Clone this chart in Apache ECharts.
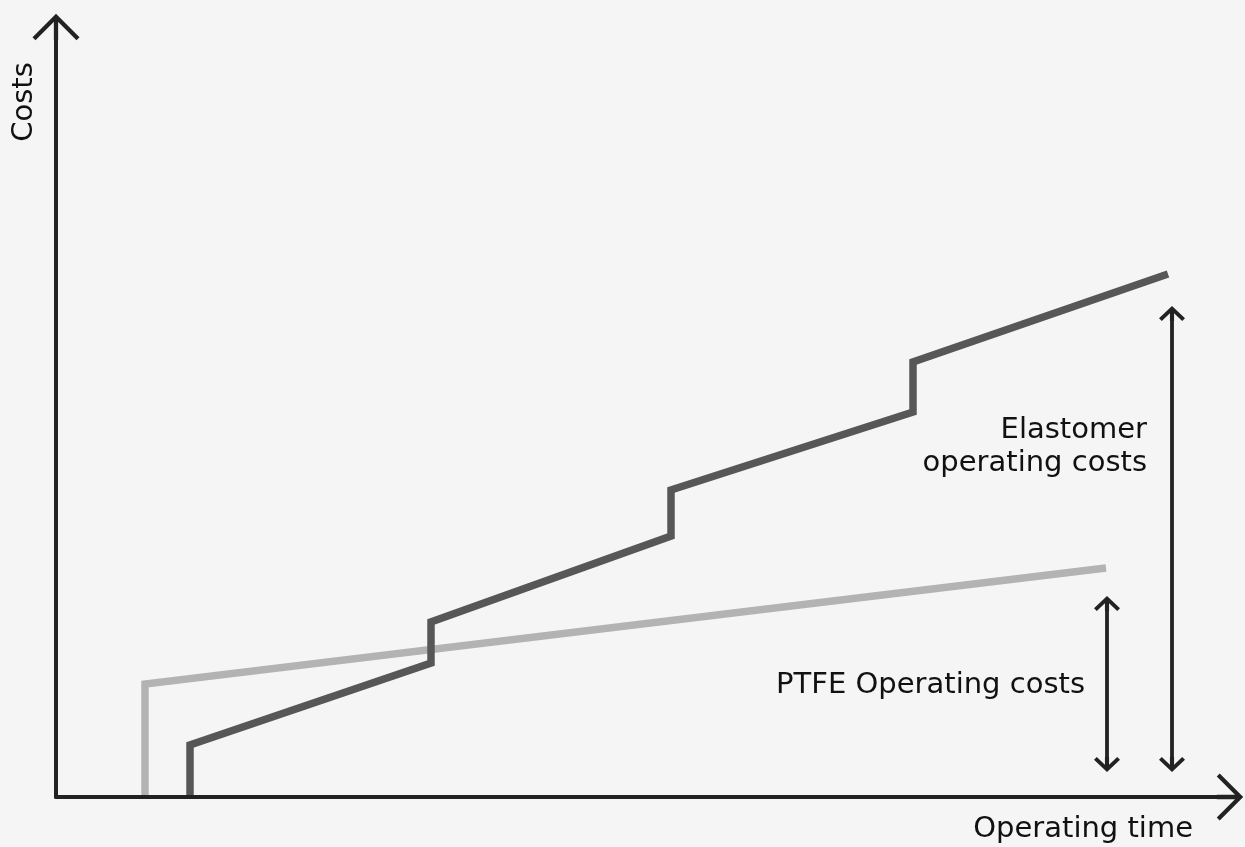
<!DOCTYPE html>
<html>
<head>
<meta charset="utf-8">
<script src="https://cdn.jsdelivr.net/npm/echarts@6/dist/echarts.min.js"></script>
<style>
  html, body { margin: 0; padding: 0; background: #f5f5f5; }
  #main { width: 1245px; height: 847px; }
</style>
</head>
<body>
<div id="main"></div>
<script>
// operating time / costs, arbitrary units
var elastomerTime = [134, 134, 375, 375, 615, 615, 857, 857, 1112];
var elastomerCost = [0, 52, 134, 175, 261, 307, 385, 435, 523];
var ptfeTime = [89, 89, 1050];
var ptfeCost = [0, 113, 229];

// double arrows for the two cost spans
var spanTime = [1051, 1116];
var ptfeSpan = [25, 201];
var elastomerSpan = [25, 491];

var labels = ['Costs', 'Operating time', 'PTFE Operating costs', 'Elastomer\noperating costs'];

var font = '29px "DejaVu Sans", Verdana, sans-serif';
var ink = '#222222';

// chevron with a short stem, pointing up
var bigArrow = 'path://M22,0 L44,22 L41.2,24.8 L22,5.6 L2.8,24.8 L0,22 Z M20,2 L24,2 L24,24.8 L20,24.8 Z';
var smallArrow = 'path://M12,0 L24,12 L21.4,14.6 L12,5.2 L2.6,14.6 L0,12 Z M10.1,2 L13.9,2 L13.9,14.6 L10.1,14.6 Z';
var smallH = 15;

function pairs(xs, ys) {
    var out = [];
    for (var i = 0; i < xs.length; i++) {
        out.push([xs[i], ys[i]]);
    }
    return out;
}

function span(x, range) {
    return [
        {coord: [x, range[0] + smallH / 2]},
        {coord: [x, range[1] - smallH / 2]}
    ];
}

var chart = echarts.init(document.getElementById('main'));
var axisLine = {
    show: true,
    symbol: ['none', bigArrow],
    symbolSize: [47, 26.5],
    lineStyle: {color: ink, width: 4}
};
var option = {
    backgroundColor: '#f5f5f5',
    animation: false,
    grid: {left: 56, right: 15, top: 27, bottom: 50},
    xAxis: {
        type: 'value', min: 0, max: 1174, z: 5,
        axisLine: axisLine,
        axisTick: {show: false}, axisLabel: {show: false}, splitLine: {show: false}
    },
    yAxis: {
        type: 'value', min: 0, max: 770, z: 5,
        axisLine: axisLine,
        axisTick: {show: false}, axisLabel: {show: false}, splitLine: {show: false}
    },
    series: [
        {
            name: 'PTFE',
            type: 'line',
            data: pairs(ptfeTime, ptfeCost),
            symbol: 'none',
            silent: true,
            lineStyle: {color: '#b3b3b3', width: 7.5, cap: 'butt', join: 'miter'}
        },
        {
            name: 'Elastomer',
            type: 'line',
            data: pairs(elastomerTime, elastomerCost),
            symbol: 'none',
            silent: true,
            lineStyle: {color: '#575757', width: 7.5, cap: 'butt', join: 'miter'},
            markLine: {
                silent: true,
                symbol: [smallArrow, smallArrow],
                symbolSize: [26, smallH],
                label: {show: false},
                lineStyle: {color: ink, width: 3.8, type: 'solid'},
                data: [span(spanTime[0], ptfeSpan), span(spanTime[1], elastomerSpan)]
            }
        }
    ],
    graphic: [
        {type: 'text', x: 24, y: 102, rotation: Math.PI / 2,
            style: {text: labels[0], font: font, fill: '#111', align: 'center', verticalAlign: 'middle'}},
        {type: 'text', x: 1193, y: 829,
            style: {text: labels[1], font: font, fill: '#111', align: 'right', verticalAlign: 'middle'}},
        {type: 'text', x: 1085, y: 685,
            style: {text: labels[2], font: font, fill: '#111', align: 'right', verticalAlign: 'middle'}},
        {type: 'text', x: 1147, y: 447,
            style: {text: labels[3], font: font, fill: '#111', align: 'right', verticalAlign: 'middle', lineHeight: 33}}
    ]
};
chart.setOption(option);
</script>
</body>
</html>
